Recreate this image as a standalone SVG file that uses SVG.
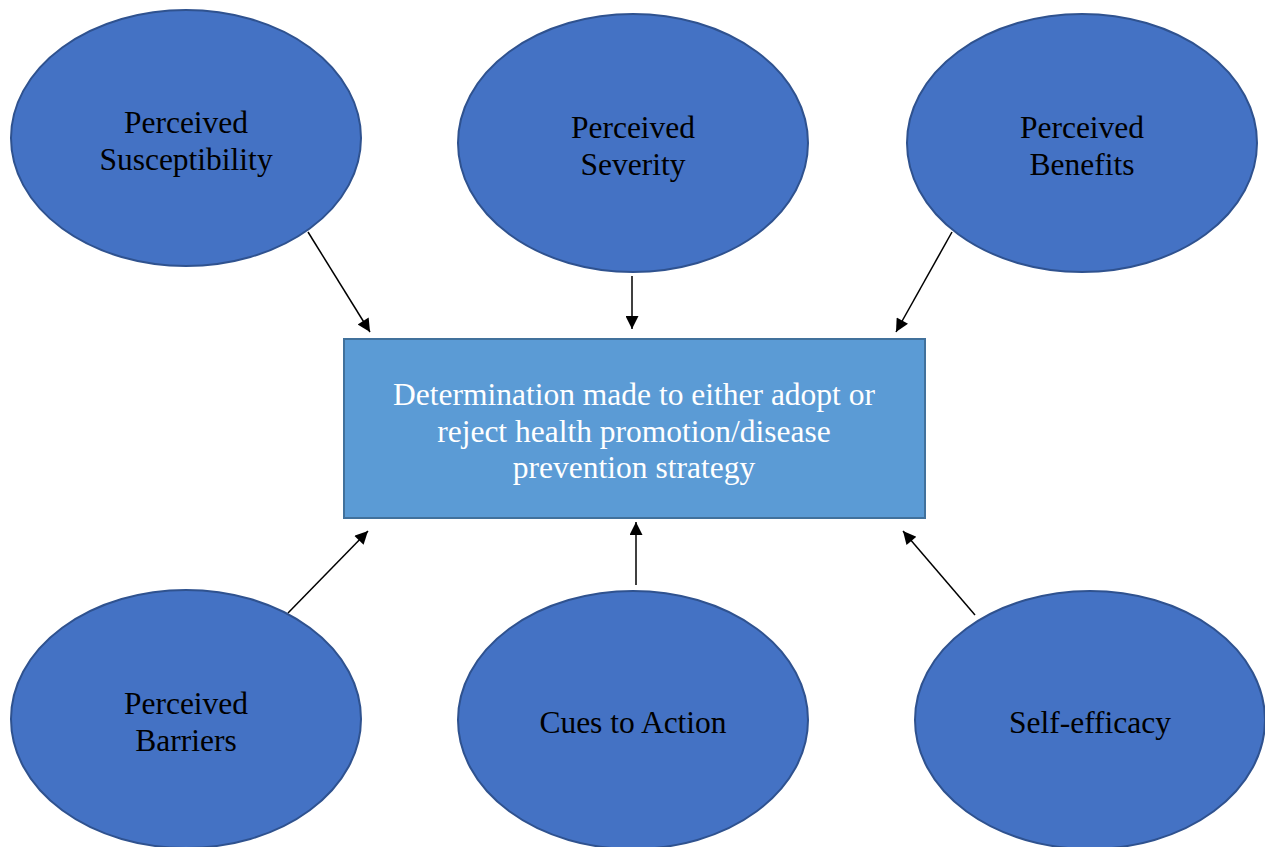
<svg xmlns="http://www.w3.org/2000/svg" width="1265" height="847" viewBox="0 0 1265 847">
<style>
.node ellipse{fill:#4472C4;stroke:#2F528F;stroke-width:2}
.lbl{font-family:"Liberation Serif","Times New Roman",serif;font-size:31.5px;fill:#000;text-anchor:middle}
.wl{font-family:"Liberation Serif","Times New Roman",serif;font-size:31.5px;fill:#fff;text-anchor:middle}
.conn line{stroke:#000;stroke-width:1.5;marker-end:url(#ah)}
</style>
<defs>
<marker id="ah" viewBox="0 0 10 10" refX="10" refY="5" markerWidth="15" markerHeight="13" markerUnits="userSpaceOnUse" orient="auto"><path d="M0,0L10,5L0,10z" fill="#000"/></marker>
</defs>
<rect width="1265" height="847" fill="#fff"/>
<g id="n1" class="node"><ellipse cx="186" cy="138" rx="175" ry="128"/><text class="lbl" x="186" y="133">Perceived</text><text class="lbl" x="186" y="170">Susceptibility</text></g>
<g id="n2" class="node"><ellipse cx="633" cy="143" rx="175" ry="129"/><text class="lbl" x="633" y="138">Perceived</text><text class="lbl" x="633" y="175">Severity</text></g>
<g id="n3" class="node"><ellipse cx="1082" cy="143" rx="175" ry="129"/><text class="lbl" x="1082" y="138">Perceived</text><text class="lbl" x="1082" y="175">Benefits</text></g>
<g id="box" class="node"><rect x="344" y="339" width="581" height="179" fill="#5B9BD5" stroke="#41719C" stroke-width="2"/><text class="wl" x="634" y="405">Determination made to either adopt or</text><text class="wl" x="634" y="442">reject health promotion/disease</text><text class="wl" x="634" y="478">prevention strategy</text></g>
<g id="n4" class="node"><ellipse cx="186" cy="719" rx="175" ry="129"/><text class="lbl" x="186" y="714">Perceived</text><text class="lbl" x="186" y="751">Barriers</text></g>
<g id="n5" class="node"><ellipse cx="633" cy="720" rx="175" ry="129"/><text class="lbl" x="633" y="733">Cues to Action</text></g>
<g id="n6" class="node"><ellipse cx="1090" cy="720" rx="175" ry="129"/><text class="lbl" x="1090" y="733">Self-efficacy</text></g>
<g id="connectors" class="conn">
<line x1="308" y1="232" x2="370" y2="332"/>
<line x1="632" y1="276" x2="632" y2="329"/>
<line x1="952" y1="232" x2="896" y2="332"/>
<line x1="288" y1="613" x2="368" y2="531"/>
<line x1="636" y1="585" x2="636" y2="522"/>
<line x1="975" y1="615" x2="903" y2="531"/>
</g>
</svg>
